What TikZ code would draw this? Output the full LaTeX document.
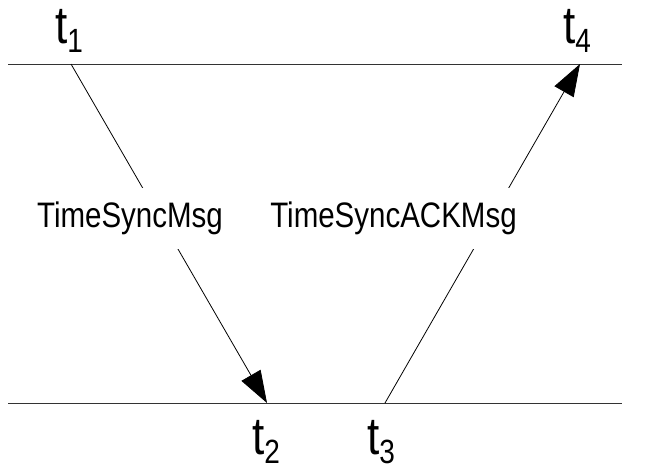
\documentclass[tikz,border=0pt]{standalone}
\usepackage{fontspec}
\setmainfont{Liberation Sans}
\usetikzlibrary{arrows.meta}
\tikzset{
  timeline/.style={line width=1pt, draw=black!80},
  msg/.style={line width=0.8pt, -{Triangle[length=32pt,width=22pt]}},
  msglabel/.style={fill=white, inner xsep=2pt, inner ysep=14pt, font=\fontsize{29.5}{29.5}\selectfont},
  tlabel/.style={anchor=base west, inner sep=0pt, font=\fontsize{44}{44}\selectfont},
}
\newcommand{\tall}[1]{\scalebox{1}[1.2]{#1}}
\newcommand{\tsub}[1]{\tall{t\raisebox{-8pt}{\fontsize{28}{28}\selectfont #1}}}
\begin{document}
\begin{tikzpicture}[x=1pt,y=-1pt]
\useasboundingbox (0,0) rectangle (649,467);
\coordinate (tl) at (8,64);
\coordinate (tr) at (622,64);
\coordinate (bl) at (8,403);
\coordinate (br) at (622,403);
\coordinate (p1) at (71,64);
\coordinate (p2) at (267,403);
\coordinate (p3) at (385,403);
\coordinate (p4) at (580,64);
\draw[timeline] (tl) -- (tr);
\draw[timeline] (bl) -- (br);
\draw[msg] (p1) -- (p2);
\draw[msg] (p3) -- (p4);
\node[msglabel] (m1) at (130,218) {\tall{TimeSyncMsg}};
\node[msglabel] (m2) at (393.5,218) {\tall{TimeSyncACKMsg}};
\node[tlabel] (t1) at (55,43) {\tsub{1}};
\node[tlabel] (t4) at (563,43) {\tsub{4}};
\node[tlabel] (t2) at (252,454) {\tsub{2}};
\node[tlabel] (t3) at (367,454) {\tsub{3}};
\end{tikzpicture}
\end{document}
